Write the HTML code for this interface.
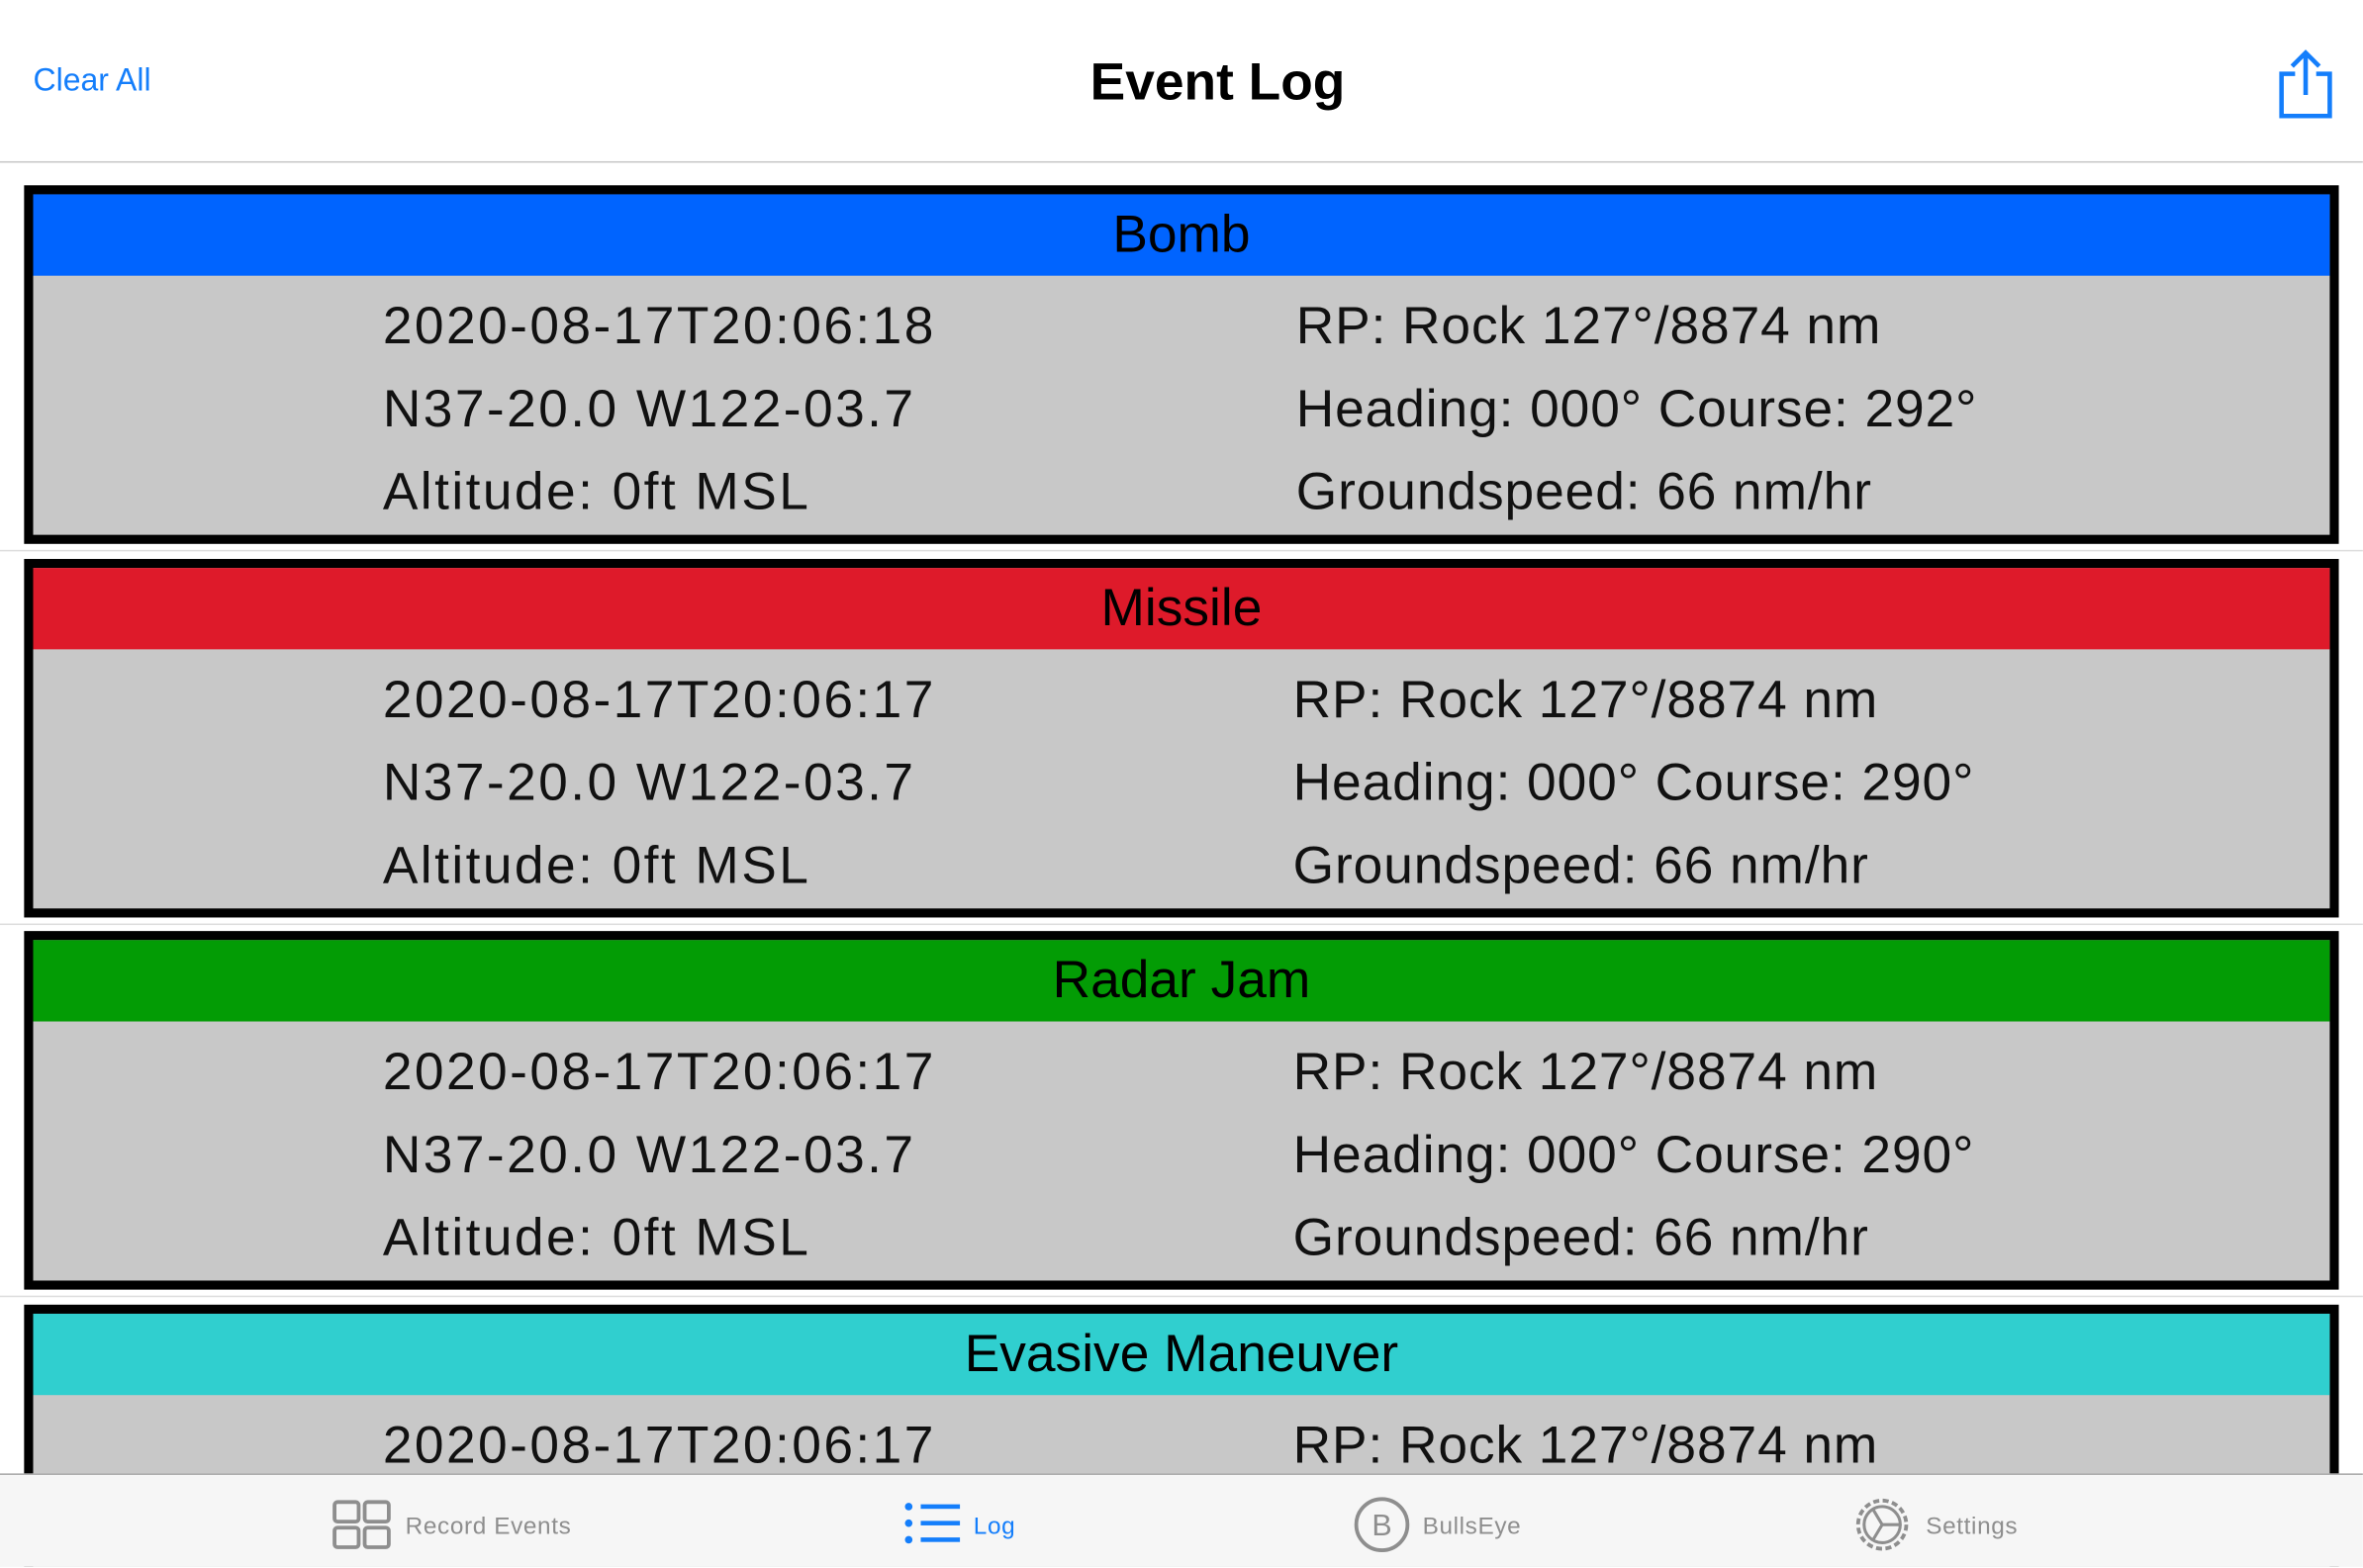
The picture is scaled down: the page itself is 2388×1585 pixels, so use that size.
<!DOCTYPE html>
<html><head><meta charset="utf-8"><style>
html,body{margin:0;padding:0;width:2388px;height:1585px;overflow:hidden;background:#fff;font-family:"Liberation Sans",sans-serif}
#w{position:absolute;left:0;top:0;width:1568px;height:1040px;transform:scale(1.5229);transform-origin:0 0;overflow:hidden}
.nav{position:absolute;left:0;top:0;width:1568px;height:107px;border-bottom:1px solid #c8c8c8;background:#fff}
.clear{position:absolute;left:22px;top:42px;font-size:21px;color:#147efb}
.title{position:absolute;left:48px;width:1520px;text-align:center;top:35px;font-size:35px;font-weight:bold;color:#000}
.card{position:absolute;left:16px;width:1524px;height:226px;border:6px solid #000;background:#c8c8c8}
.hdr{height:54px;line-height:54px;text-align:center;font-size:35px;color:#000}
.row{position:absolute;font-size:35px;color:#111;white-space:nowrap}
.sep{position:absolute;left:0;width:1568px;height:1px;background:#ddd}
.tab{position:absolute;left:0;top:978px;width:1568px;height:63px;background:#f6f6f6;border-top:1px solid #a8a8a8}
.ti{position:absolute;top:26px;font-size:16px;color:#8e8e8e;letter-spacing:0.4px}
</style></head><body>
<div id="w">
<div class="nav">
<div class="clear">Clear All</div>
<div class="title">Event Log</div>
<svg style="position:absolute;left:1510px;top:32px" width="40" height="48" viewBox="0 0 40 48"><path d="M13 17H4v28h32V17h-9" fill="none" stroke="#147efb" stroke-width="3"/><path d="M20 31V3M11 12l9-9 9 9" fill="none" stroke="#147efb" stroke-width="3"/></svg>
</div>
<div id="list"></div>
<div class="tab">
<div><svg style="position:absolute;left:220px;top:16px" width="42" height="34"><g fill="none" stroke="#8e8e8e" stroke-width="2.5"><rect x="2" y="2" width="16" height="13" rx="2"/><rect x="22" y="2" width="16" height="13" rx="2"/><rect x="2" y="19" width="16" height="13" rx="2"/><rect x="22" y="19" width="16" height="13" rx="2"/></g></svg><div class="ti" style="left:269px">Record Events</div></div>
<div><svg style="position:absolute;left:600px;top:18px" width="40" height="30"><g fill="#147efb"><circle cx="3" cy="3" r="2.5"/><circle cx="3" cy="14" r="2.5"/><circle cx="3" cy="25" r="2.5"/><rect x="11" y="1.5" width="26" height="3"/><rect x="11" y="12.5" width="26" height="3"/><rect x="11" y="23.5" width="26" height="3"/></g></svg><div class="ti" style="left:646px;color:#147efb">Log</div></div>
<div><svg style="position:absolute;left:898px;top:14px" width="40" height="40"><circle cx="19" cy="19" r="17" fill="none" stroke="#8e8e8e" stroke-width="2.5"/><text x="19" y="26" text-anchor="middle" font-size="20" fill="#8e8e8e" font-family="Liberation Sans">B</text></svg><div class="ti" style="left:944px">BullsEye</div></div>
<div><svg style="position:absolute;left:1228px;top:12px" width="44" height="44"><circle cx="21" cy="21" r="16" fill="none" stroke="#8e8e8e" stroke-width="2.5" stroke-dasharray="4 2.3"/><circle cx="21" cy="21" r="12" fill="none" stroke="#8e8e8e" stroke-width="2"/><path d="M21 21h12M21 21l-6-10M21 21l-6 10" stroke="#8e8e8e" stroke-width="2"/></svg><div class="ti" style="left:1278px">Settings</div></div>
</div>
</div>
<script>
const titles=["Bomb","Missile","Radar Jam","Evasive Maneuver"];
const colors=["#0064ff","#de1a2a","#039c05","#30cfcf"];
const times=["2020-08-17T20:06:18","2020-08-17T20:06:17","2020-08-17T20:06:17","2020-08-17T20:06:17"];
const courses=["292°","290°","290°","290°"];
const list=document.getElementById('list');
titles.forEach((t,i)=>{
  const top=123+i*247.7;
  const c=document.createElement('div');c.className='card';c.style.top=top+'px';
  
  
  const h=document.createElement('div');h.className='hdr';h.style.background=colors[i];h.textContent=t;
  
  
  c.appendChild(h);
  const L=[times[i],"N37-20.0 W122-03.7","Altitude: 0ft MSL"];
  const R=["RP: Rock 127°/8874 nm","Heading: 000° Course: "+courses[i],"Groundspeed: 66 nm/hr"];
  for(let r=0;r<3;r++){
    const a=document.createElement('div');a.className='row';a.style.left='232px';a.style.top=(68+r*55)+'px';a.style.letterSpacing='1.6px';a.textContent=L[r];
    
    
    c.appendChild(a);
    const b=document.createElement('div');b.className='row';b.style.left=(i==0?838:836)+'px';b.style.top=(68+r*55)+'px';b.style.letterSpacing='0.6px';b.textContent=R[r];
    
    
    c.appendChild(b);
  }
  list.appendChild(c);
  const s=document.createElement('div');s.className='sep';s.style.top=(top+242)+'px';
  
  
  list.appendChild(s);
});
</script>
</body></html>
